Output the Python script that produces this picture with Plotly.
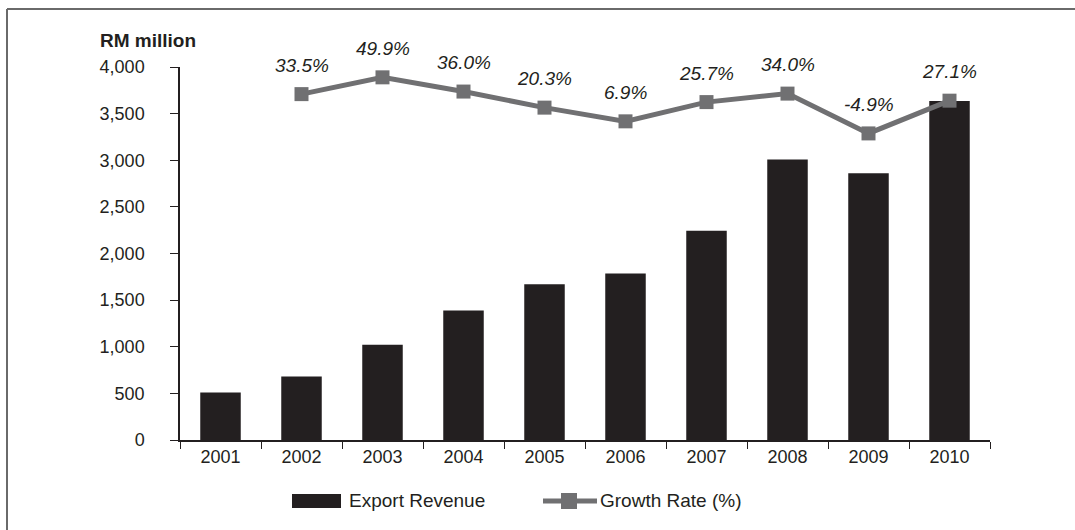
import plotly.graph_objects as go

# Export revenue (RM million) and annual growth rate (%)
years = ["2001", "2002", "2003", "2004", "2005", "2006", "2007", "2008", "2009", "2010"]
export_revenue = [510, 681, 1021, 1388, 1670, 1785, 2244, 3007, 2860, 3635]
growth_rate = [None, 33.5, 49.9, 36.0, 20.3, 6.9, 25.7, 34.0, -4.9, 27.1]
y_ticks = [0, 500, 1000, 1500, 2000, 2500, 3000, 3500, 4000]

W, H = 1075, 530
L, R, T, B = 180, 85, 67, 90
PW, PH = W - L - R, H - T - B

INK = "#231f20"
LINE_GREY = "#707072"
FONT = "Liberation Sans, Arial, sans-serif"


def px(x):
    return (x - L) / PW


def py(y):
    return (H - B - y) / PH


fig = go.Figure()

fig.add_trace(go.Bar(
    x=years, y=export_revenue, name="Export Revenue",
    marker=dict(color=INK, line=dict(width=0)),
    yaxis="y", showlegend=False,
))

fig.add_trace(go.Scatter(
    x=years, y=growth_rate, name="Growth Rate (%)",
    mode="lines+markers",
    line=dict(color=LINE_GREY, width=5),
    marker=dict(symbol="square", size=14, color=LINE_GREY),
    yaxis="y2", showlegend=False, connectgaps=False,
))

annotations = []
for i, g in enumerate(growth_rate):
    if g is None:
        continue
    annotations.append(dict(
        x=i, y=g, xref="x", yref="y2", text=f"<i>{g:.1f}%</i>",
        showarrow=False, yshift=29, xanchor="center", yanchor="middle",
        font=dict(family=FONT, size=19, color=INK),
    ))

# Axis title
annotations.append(dict(
    x=px(98), y=py(41), xref="paper", yref="paper", text="<b>RM million</b>",
    showarrow=False, xanchor="left", yanchor="middle",
    font=dict(family=FONT, size=19, color=INK),
))

# Legend labels
annotations.append(dict(
    x=px(347), y=py(501), xref="paper", yref="paper", text="Export Revenue",
    showarrow=False, xanchor="left", yanchor="middle",
    font=dict(family=FONT, size=19, color=INK),
))
annotations.append(dict(
    x=px(598), y=py(501), xref="paper", yref="paper", text="Growth Rate (%)",
    showarrow=False, xanchor="left", yanchor="middle",
    font=dict(family=FONT, size=19, color=INK),
))

shapes = [
    # frame (top and left edges)
    dict(type="line", xref="paper", yref="paper", x0=px(7), x1=px(W + 5), y0=py(9), y1=py(9),
         line=dict(color="#6a6a6a", width=2)),
    dict(type="line", xref="paper", yref="paper", x0=px(7), x1=px(7), y0=py(9), y1=py(H + 5),
         line=dict(color="#6a6a6a", width=2)),
    # legend swatches
    dict(type="rect", xref="paper", yref="paper", x0=px(292), x1=px(341), y0=py(494), y1=py(508),
         fillcolor=INK, line=dict(width=0)),
    dict(type="line", xref="paper", yref="paper", x0=px(543), x1=px(597), y0=py(501), y1=py(501),
         line=dict(color=LINE_GREY, width=5)),
    dict(type="rect", xref="paper", yref="paper", x0=px(561), x1=px(577), y0=py(493), y1=py(509),
         fillcolor=LINE_GREY, line=dict(width=0)),
]

fig.update_layout(
    width=W, height=H,
    margin=dict(l=L, r=R, t=T, b=B, pad=0),
    paper_bgcolor="white", plot_bgcolor="white",
    bargap=0.5,
    font=dict(family=FONT, size=18, color=INK),
    xaxis=dict(
        type="category", showgrid=False, zeroline=False,
        showline=True, linecolor=INK, linewidth=1.5,
        ticks="outside", tickson="boundaries", ticklen=7, tickcolor=INK, tickwidth=1.2,
        tickfont=dict(family=FONT, size=18, color=INK),
        range=[-0.5, 9.5], fixedrange=True,
    ),
    yaxis=dict(
        range=[0, 4000], tickvals=y_ticks, tickformat=",d",
        showgrid=False, zeroline=False,
        showline=True, linecolor=INK, linewidth=1.5,
        ticks="outside", ticklen=8, tickcolor=INK, tickwidth=1.2,
        ticklabelstandoff=22,
        tickfont=dict(family=FONT, size=18, color=INK),
    ),
    yaxis2=dict(
        overlaying="y", side="right", range=[-304.5, 60],
        showgrid=False, zeroline=False, showline=False,
        showticklabels=False, ticks="",
    ),
    annotations=annotations,
    shapes=shapes,
    showlegend=False,
)

fig.write_html("out.html")
